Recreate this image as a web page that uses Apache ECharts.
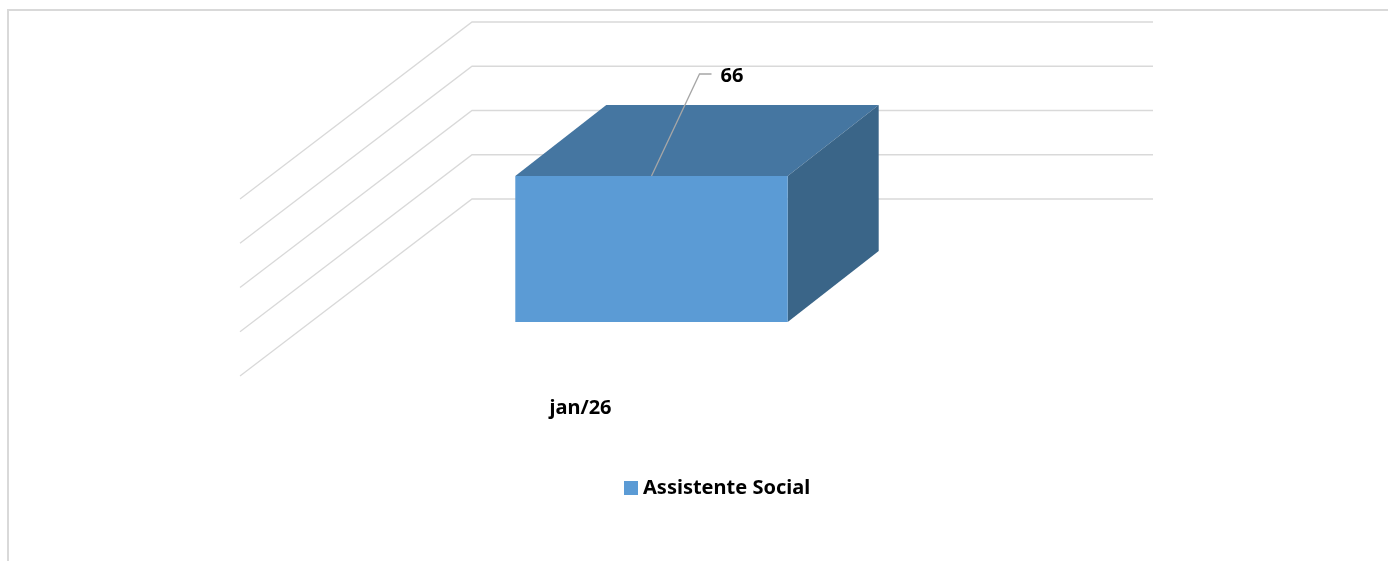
<!DOCTYPE html>
<html>
<head>
<meta charset="utf-8">
<script src="https://cdn.jsdelivr.net/npm/echarts@6/dist/echarts.min.js"></script>
<style>
  html, body { margin: 0; padding: 0; background: #ffffff; }
  #chart { width: 1388px; height: 561px; }
</style>
</head>
<body>
<div id="chart"></div>
<script>
// ---- data ----
const categories = ['jan/26'];
const seriesName = 'Assistente Social';
const values = [66];
const yTicks = [0, 20, 40, 60, 80];

// ---- styling / projection ----
const FONT = 'Noto Sans';
const FRONT = '#5B9BD5';
const TOP = '#4576A1';
const SIDE = '#3A6588';
const GRID_COLOR = '#d9d9d9';
// oblique depth offsets relative to the plane of the bar's front face
const WALL_FRONT = [-71, 54];
const WALL_BACK = [161, -123];
const BAR_DEPTH = [91, -71];

const chart = echarts.init(document.getElementById('chart'), null, { renderer: 'canvas' });

const option = {
  animation: false,
  backgroundColor: '#ffffff',
  graphic: [{
    type: 'rect',
    shape: { x: 8, y: 10, width: 1400, height: 600 },
    style: { fill: 'none', stroke: '#d9d9d9', lineWidth: 2 },
    silent: true
  }],
  grid: { left: 311, width: 681, top: 145, height: 177 },
  legend: {
    data: [seriesName],
    left: 624,
    top: 478,
    padding: 0,
    icon: 'rect',
    itemWidth: 14,
    itemHeight: 14,
    itemGap: 10,
    textStyle: { fontFamily: FONT, fontWeight: 'bold', fontSize: 20, color: '#000' }
  },
  xAxis: { type: 'category', data: categories, show: false },
  yAxis: { type: 'value', min: 0, max: 80, interval: 20, show: false },
  series: [
    {
      type: 'custom',
      name: 'grid',
      silent: true,
      z: 1,
      data: yTicks.map(v => [0, v]),
      renderItem: function (params, api) {
        const cs = params.coordSys;
        const xl = cs.x, xr = cs.x + cs.width;
        const y = api.coord([0, api.value(1)])[1];
        return {
          type: 'polyline',
          shape: { points: [
            [xl + WALL_FRONT[0], y + WALL_FRONT[1]],
            [xl + WALL_BACK[0], y + WALL_BACK[1]],
            [xr + WALL_BACK[0], y + WALL_BACK[1]]
          ] },
          style: { stroke: GRID_COLOR, lineWidth: 1.3, fill: null }
        };
      }
    },
    {
      type: 'custom',
      name: seriesName,
      z: 5,
      itemStyle: { color: FRONT },
      data: values.map((v, i) => [i, v]),
      renderItem: function (params, api) {
        const idx = api.value(0), val = api.value(1);
        const base = api.coord([idx, 0]);
        const top = api.coord([idx, val]);
        const bw = api.size([1, 0])[0] * 0.4;
        const x0 = base[0] - bw / 2, x1 = base[0] + bw / 2;
        const yb = base[1], yt = top[1];
        const dx = BAR_DEPTH[0], dy = BAR_DEPTH[1];
        const cx = base[0];
        return {
          type: 'group',
          children: [
            { type: 'polygon', shape: { points: [[x0, yt], [x1, yt], [x1 + dx, yt + dy], [x0 + dx, yt + dy]] },
              style: { fill: TOP } },
            { type: 'polygon', shape: { points: [[x1, yt], [x1 + dx, yt + dy], [x1 + dx, yb + dy], [x1, yb]] },
              style: { fill: SIDE } },
            { type: 'rect', shape: { x: x0, y: yt, width: bw, height: yb - yt },
              style: { fill: FRONT } },
            { type: 'polyline', shape: { points: [[cx, yt], [cx + 48, yt - 102], [cx + 60, yt - 102]] },
              style: { stroke: '#a6a6a6', lineWidth: 1.3, fill: null } },
            { type: 'text', x: cx + 69, y: yt - 100,
              style: { text: String(val), fontFamily: FONT, fontWeight: 'bold', fontSize: 20, fill: '#000',
                       align: 'left', verticalAlign: 'middle' } },
            { type: 'text', x: cx + WALL_FRONT[0], y: yb + WALL_FRONT[1] + 32,
              style: { text: categories[idx], fontFamily: FONT, fontWeight: 'bold', fontSize: 20, fill: '#000',
                       align: 'center', verticalAlign: 'middle' } }
          ]
        };
      }
    }
  ]
};

chart.setOption(option);
</script>
</body>
</html>
